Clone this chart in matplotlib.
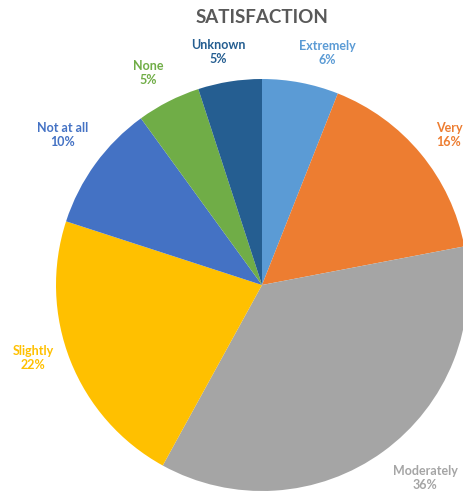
import matplotlib as mpl

mpl.use('agg')

import matplotlib.pyplot as plt

plt.rcParams['font.family'] = ['Lato', 'DejaVu Sans']

categories = ['Extremely', 'Very', 'Moderately', 'Slightly', 'Not at all', 'None', 'Unknown']
values = [6, 16, 36, 22, 10, 5, 5]
colors = ['#5B9BD5', '#ED7D31', '#A5A5A5', '#FFC000', '#4472C4', '#70AD47', '#255E91']

# label centres in pixel coords (y measured from top)
label_pos = [(327, 53), (449, 135), (425, 478), (33, 358), (63, 135), (148, 73), (218, 52)]

W, H = 464, 491
fig = plt.figure(figsize=(W / 100, H / 100), dpi=100)
ax = fig.add_axes([0, 0, 1, 1])

ax.pie(values, colors=colors, startangle=90, counterclock=False,
       center=(262, H - 285), radius=206,
       wedgeprops=dict(linewidth=0))

ax.set_xlim(0, W)
ax.set_ylim(0, H)
ax.set_aspect('auto')
ax.axis('off')

for cat, val, col, (x, y) in zip(categories, values, colors, label_pos):
    ax.text(x, H - y, "%s\n%d%%" % (cat, val), color=col, fontsize=9,
            fontweight='bold', ha='center', va='center', linespacing=1.25)

ax.text(262, H - 17, 'SATISFACTION', color='#595959', fontsize=13.5,
        fontweight='bold', ha='center', va='center')

fig.savefig('out.png', dpi=100)
